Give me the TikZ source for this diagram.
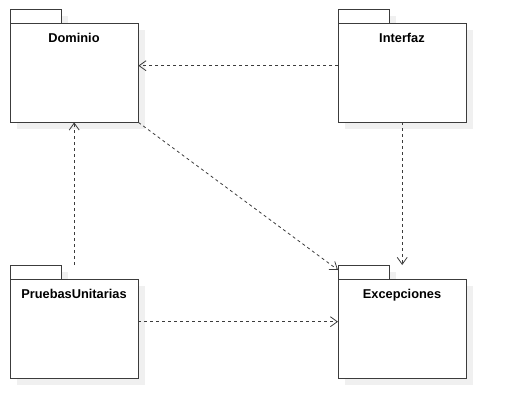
\documentclass[tikz,border=0pt]{standalone}
\usepackage{fontspec}
\setmainfont{Liberation Sans}
\usepackage{tikz}
\usetikzlibrary{arrows.meta,positioning}
\definecolor{shadowgray}{RGB}{240,240,240}
\definecolor{linegray}{RGB}{60,60,60}

\begin{document}
\begin{tikzpicture}[x=1pt,y=-1pt,
	pkg/.style={minimum width=128pt,minimum height=113pt,inner sep=0pt},
	pkgname/.style={anchor=base,font=\bfseries\fontsize{12.8}{15}\selectfont},
	dep/.style={draw=linegray,line width=0.8pt,dash pattern=on 3pt off 3pt,-{Straight Barb[length=7pt,width=10pt]}}]
	\useasboundingbox (0,0) rectangle (506,418);
	\foreach \nam/\x/\y/\txt in {
		dom/10/9/Dominio,
		int/338/9/Interfaz,
		pru/10/265/PruebasUnitarias,
		exc/338/265/Excepciones}
	{
		\node[pkg,anchor=north west] (\nam) at (\x,\y) {};
		\fill[shadowgray] (\x+7,\y+21) rectangle (\x+135,\y+120);
		\fill[shadowgray] (\x+7,\y+7) rectangle (\x+58,\y+14);
		\draw[linegray,line width=1pt,fill=white] (\x,\y) rectangle (\x+51,\y+14);
		\draw[linegray,line width=1pt,fill=white] (\x,\y+14) rectangle (\x+128,\y+113);
		\node[pkgname] (\nam-name) at (\x+64,\y+33) {\txt};
	}
	\draw[dep] (int.west) -- (dom.east);
	\draw[dep] (dom.south east) -- ([yshift=-5pt]exc.north west);
	\draw[dep] (int.south) -- (exc.north);
	\draw[dep] (pru.north) -- (dom.south);
	\draw[dep] (pru.east) -- (exc.west);
\end{tikzpicture}
\end{document}
